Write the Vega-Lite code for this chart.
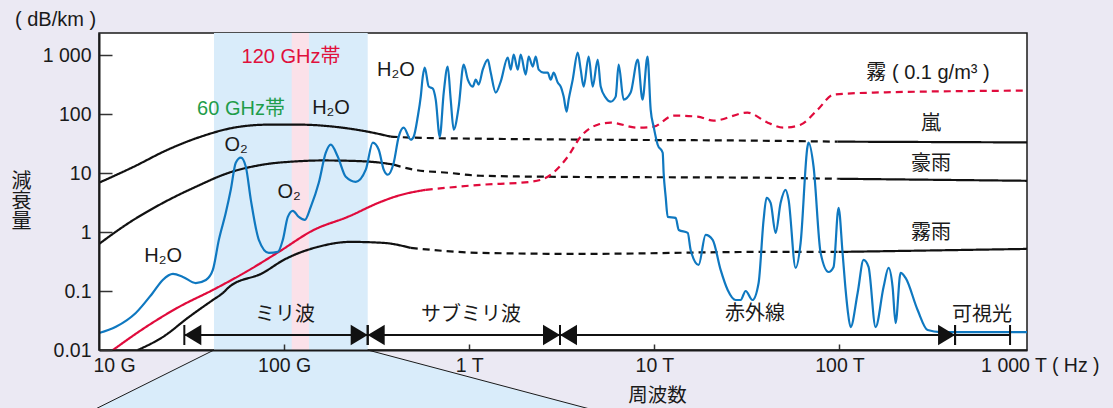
{
  "$schema": "https://vega.github.io/schema/vega-lite/v6.json",
  "width": 928,
  "height": 317,
  "autosize": {"type": "none"},
  "padding": {"left": 99, "top": 33, "right": 86, "bottom": 58},
  "background": "#ebe9f3",
  "view": {"fill": "white", "stroke": "#1a1a1a", "strokeWidth": 1.5},
  "config": {
    "font": "Liberation Sans, Noto Sans CJK JP, sans-serif",
    "axis": {"labelFont": "Liberation Sans, Noto Sans CJK JP, sans-serif", "titleFont": "Liberation Sans, Noto Sans CJK JP, sans-serif"},
    "text": {"font": "Liberation Sans, Noto Sans CJK JP, sans-serif"}
  },
  "title": {"text": "( dB/km )", "anchor": "start", "frame": "group", "dx": -84, "offset": 3, "fontSize": 20, "fontWeight": "normal", "color": "#1a1a1a", "font": "Liberation Sans, Noto Sans CJK JP, sans-serif"},
  "resolve": {"scale": {"color": "independent"}},
  "datasets": {
    "bands": [
      {"band": "拡大範囲", "f": 41.8, "f2": 282.8},
      {"band": "120 GHz帯", "f": 109.9, "f2": 136.2}
    ],
    "callout": [
      {"v": 0.01, "f": 41.8, "f2": 282.8},
      {"v": 0.00095, "f": 9.29, "f2": 4745}
    ],
    "calloutEdges": [
      {"f": 41.8, "v": 0.01, "f2": 9.29, "v2": 0.00095},
      {"f": 282.8, "v": 0.01, "f2": 4745, "v2": 0.00095}
    ],
    "ranges": [
      {"range": "ミリ波", "f": 28.9, "f2": 282.8},
      {"range": "サブミリ波", "f": 282.8, "f2": 3093},
      {"range": "赤外線", "f": 3093, "f2": 421000},
      {"range": "可視光", "f": 421000, "f2": 834200}
    ],
    "notes": [
      {"label": "120 GHz帯", "kind": "120 GHz帯", "f": 108.9, "v": 943},
      {"label": "60 GHz帯", "kind": "60 GHz帯", "f": 58.5, "v": 123.5},
      {"label": "H₂O", "kind": "その他", "f": 179.2, "v": 128.4},
      {"label": "O₂", "kind": "その他", "f": 55.0, "v": 30.2},
      {"label": "O₂", "kind": "その他", "f": 106.3, "v": 4.815},
      {"label": "H₂O", "kind": "その他", "f": 22.2, "v": 0.394},
      {"label": "H₂O", "kind": "その他", "f": 402, "v": 567},
      {"label": "霧 ( 0.1 g/m³ )", "kind": "その他", "f": 300800, "v": 504.7},
      {"label": "嵐", "kind": "その他", "f": 312200, "v": 68.7},
      {"label": "豪雨", "kind": "その他", "f": 312200, "v": 14.4},
      {"label": "霧雨", "kind": "その他", "f": 312200, "v": 0.969},
      {"label": "ミリ波", "kind": "その他", "f": 101.1, "v": 0.03929},
      {"label": "サブミリ波", "kind": "その他", "f": 1022, "v": 0.03929},
      {"label": "赤外線", "kind": "その他", "f": 34960, "v": 0.04086},
      {"label": "可視光", "kind": "その他", "f": 588900, "v": 0.03929}
    ],
    "curves": [
      {"curve": "嵐", "seg": "嵐1", "status": "measured", "f": 10, "v": 6.9},
      {"curve": "嵐", "seg": "嵐1", "status": "measured", "f": 15.4, "v": 12.9},
      {"curve": "嵐", "seg": "嵐1", "status": "measured", "f": 23.5, "v": 25.1},
      {"curve": "嵐", "seg": "嵐1", "status": "measured", "f": 35.5, "v": 41.8},
      {"curve": "嵐", "seg": "嵐1", "status": "measured", "f": 53.5, "v": 59.4},
      {"curve": "嵐", "seg": "嵐1", "status": "measured", "f": 81.7, "v": 66.8},
      {"curve": "嵐", "seg": "嵐1", "status": "measured", "f": 123, "v": 66.8},
      {"curve": "嵐", "seg": "嵐1", "status": "measured", "f": 185, "v": 61.8},
      {"curve": "嵐", "seg": "嵐1", "status": "measured", "f": 283, "v": 50.8},
      {"curve": "嵐", "seg": "嵐1", "status": "measured", "f": 377, "v": 41.8},
      {"curve": "嵐", "seg": "嵐2", "status": "estimated", "f": 377, "v": 41.8},
      {"curve": "嵐", "seg": "嵐2", "status": "estimated", "f": 501, "v": 40.2},
      {"curve": "嵐", "seg": "嵐2", "status": "estimated", "f": 1153, "v": 38.6},
      {"curve": "嵐", "seg": "嵐2", "status": "estimated", "f": 5129, "v": 37.1},
      {"curve": "嵐", "seg": "嵐2", "status": "estimated", "f": 37500, "v": 35.7},
      {"curve": "嵐", "seg": "嵐2", "status": "estimated", "f": 97700, "v": 34.4},
      {"curve": "嵐", "seg": "嵐3", "status": "measured", "f": 97700, "v": 34.4},
      {"curve": "嵐", "seg": "嵐3", "status": "measured", "f": 1036000, "v": 33.4},
      {"curve": "豪雨", "seg": "豪雨1", "status": "measured", "f": 10, "v": 0.63},
      {"curve": "豪雨", "seg": "豪雨1", "status": "measured", "f": 14.5, "v": 1.44},
      {"curve": "豪雨", "seg": "豪雨1", "status": "measured", "f": 22.2, "v": 3.15},
      {"curve": "豪雨", "seg": "豪雨1", "status": "measured", "f": 33.3, "v": 5.89},
      {"curve": "豪雨", "seg": "豪雨1", "status": "measured", "f": 50.3, "v": 10.2},
      {"curve": "豪雨", "seg": "豪雨1", "status": "measured", "f": 76.7, "v": 14.0},
      {"curve": "豪雨", "seg": "豪雨1", "status": "measured", "f": 115.6, "v": 15.9},
      {"curve": "豪雨", "seg": "豪雨1", "status": "measured", "f": 160, "v": 16.5},
      {"curve": "豪雨", "seg": "豪雨1", "status": "measured", "f": 220.8, "v": 16.3},
      {"curve": "豪雨", "seg": "豪雨1", "status": "measured", "f": 332.7, "v": 15.1},
      {"curve": "豪雨", "seg": "豪雨1", "status": "measured", "f": 391, "v": 14.0},
      {"curve": "豪雨", "seg": "豪雨2", "status": "estimated", "f": 391, "v": 14.0},
      {"curve": "豪雨", "seg": "豪雨2", "status": "estimated", "f": 501, "v": 11.5},
      {"curve": "豪雨", "seg": "豪雨2", "status": "estimated", "f": 765, "v": 10.2},
      {"curve": "豪雨", "seg": "豪雨2", "status": "estimated", "f": 1153, "v": 9.08},
      {"curve": "豪雨", "seg": "豪雨2", "status": "estimated", "f": 2655, "v": 8.73},
      {"curve": "豪雨", "seg": "豪雨2", "status": "estimated", "f": 37500, "v": 8.4},
      {"curve": "豪雨", "seg": "豪雨2", "status": "estimated", "f": 97700, "v": 8.07},
      {"curve": "豪雨", "seg": "豪雨3", "status": "measured", "f": 97700, "v": 8.07},
      {"curve": "豪雨", "seg": "豪雨3", "status": "measured", "f": 1036000, "v": 7.45},
      {"curve": "霧雨", "seg": "霧雨1", "status": "measured", "f": 16.2, "v": 0.01},
      {"curve": "霧雨", "seg": "霧雨1", "status": "measured", "f": 22.1, "v": 0.0166},
      {"curve": "霧雨", "seg": "霧雨1", "status": "measured", "f": 30.6, "v": 0.0363},
      {"curve": "霧雨", "seg": "霧雨1", "status": "measured", "f": 41.2, "v": 0.0706},
      {"curve": "霧雨", "seg": "霧雨1", "status": "measured", "f": 46.7, "v": 0.0929},
      {"curve": "霧雨", "seg": "霧雨1", "status": "measured", "f": 50.4, "v": 0.117},
      {"curve": "霧雨", "seg": "霧雨1", "status": "measured", "f": 76.7, "v": 0.203},
      {"curve": "霧雨", "seg": "霧雨1", "status": "measured", "f": 99.5, "v": 0.338},
      {"curve": "霧雨", "seg": "霧雨1", "status": "measured", "f": 152, "v": 0.562},
      {"curve": "霧雨", "seg": "霧雨1", "status": "measured", "f": 229, "v": 0.684},
      {"curve": "霧雨", "seg": "霧雨1", "status": "measured", "f": 345, "v": 0.658},
      {"curve": "霧雨", "seg": "霧雨1", "status": "measured", "f": 483, "v": 0.541},
      {"curve": "霧雨", "seg": "霧雨2", "status": "estimated", "f": 483, "v": 0.541},
      {"curve": "霧雨", "seg": "霧雨2", "status": "estimated", "f": 1153, "v": 0.445},
      {"curve": "霧雨", "seg": "霧雨2", "status": "estimated", "f": 4000, "v": 0.428},
      {"curve": "霧雨", "seg": "霧雨2", "status": "estimated", "f": 37500, "v": 0.462},
      {"curve": "霧雨", "seg": "霧雨2", "status": "estimated", "f": 98850, "v": 0.462},
      {"curve": "霧雨", "seg": "霧雨3", "status": "measured", "f": 98850, "v": 0.462},
      {"curve": "霧雨", "seg": "霧雨3", "status": "measured", "f": 1036000, "v": 0.52},
      {"curve": "霧", "seg": "霧1", "status": "measured", "f": 11.9, "v": 0.01},
      {"curve": "霧", "seg": "霧1", "status": "measured", "f": 17.9, "v": 0.0245},
      {"curve": "霧", "seg": "霧1", "status": "measured", "f": 27.0, "v": 0.0537},
      {"curve": "霧", "seg": "霧1", "status": "measured", "f": 41.2, "v": 0.1045},
      {"curve": "霧", "seg": "霧1", "status": "measured", "f": 62.1, "v": 0.211},
      {"curve": "霧", "seg": "霧1", "status": "measured", "f": 93.5, "v": 0.462},
      {"curve": "霧", "seg": "霧1", "status": "measured", "f": 144.5, "v": 1.09},
      {"curve": "霧", "seg": "霧1", "status": "measured", "f": 220.8, "v": 1.82},
      {"curve": "霧", "seg": "霧1", "status": "measured", "f": 332.7, "v": 3.27},
      {"curve": "霧", "seg": "霧1", "status": "measured", "f": 411, "v": 4.14},
      {"curve": "霧", "seg": "霧1", "status": "measured", "f": 582, "v": 5.24},
      {"curve": "霧", "seg": "霧2", "status": "estimated", "f": 582, "v": 5.24},
      {"curve": "霧", "seg": "霧2", "status": "estimated", "f": 1153, "v": 6.37},
      {"curve": "霧", "seg": "霧2", "status": "estimated", "f": 2148, "v": 7.17},
      {"curve": "霧", "seg": "霧2", "status": "estimated", "f": 2655, "v": 8.73},
      {"curve": "霧", "seg": "霧2", "status": "estimated", "f": 3404, "v": 19.1},
      {"curve": "霧", "seg": "霧2", "status": "estimated", "f": 4000, "v": 41.8},
      {"curve": "霧", "seg": "霧2", "status": "estimated", "f": 4943, "v": 66.8},
      {"curve": "霧", "seg": "霧2", "status": "estimated", "f": 5808, "v": 72.3},
      {"curve": "霧", "seg": "霧2", "status": "estimated", "f": 8128, "v": 59.4},
      {"curve": "霧", "seg": "霧2", "status": "estimated", "f": 9908, "v": 61.8},
      {"curve": "霧", "seg": "霧2", "status": "estimated", "f": 12700, "v": 95.1},
      {"curve": "霧", "seg": "霧2", "status": "estimated", "f": 17100, "v": 91.4},
      {"curve": "霧", "seg": "霧2", "status": "estimated", "f": 20890, "v": 78.2},
      {"curve": "霧", "seg": "霧2", "status": "estimated", "f": 31840, "v": 107},
      {"curve": "霧", "seg": "霧2", "status": "estimated", "f": 40930, "v": 72.3},
      {"curve": "霧", "seg": "霧2", "status": "estimated", "f": 49890, "v": 59.4},
      {"curve": "霧", "seg": "霧2", "status": "estimated", "f": 61660, "v": 66.8},
      {"curve": "霧", "seg": "霧2", "status": "estimated", "f": 76210, "v": 120},
      {"curve": "霧", "seg": "霧2", "status": "estimated", "f": 92900, "v": 216},
      {"curve": "霧", "seg": "霧2", "status": "estimated", "f": 152800, "v": 234},
      {"curve": "霧", "seg": "霧2", "status": "estimated", "f": 1036000, "v": 253}
    ],
    "gas": [
      {"f": 10, "v": 0.0194}, {"f": 12.34, "v": 0.0248}, {"f": 15.8, "v": 0.0425}, {"f": 19.5, "v": 0.0929},
      {"f": 22.1, "v": 0.1545}, {"f": 25.1, "v": 0.1954}, {"f": 28.4, "v": 0.174}, {"f": 33.3, "v": 0.137},
      {"f": 37.8, "v": 0.1545}, {"f": 41.2, "v": 0.2286}, {"f": 44.4, "v": 0.74}, {"f": 48.4, "v": 2.13},
      {"f": 51.5, "v": 5.24}, {"f": 54.8, "v": 15.1}, {"f": 58.4, "v": 18.4}, {"f": 62.1, "v": 12.9},
      {"f": 66.1, "v": 3.54}, {"f": 73.0, "v": 0.74}, {"f": 82.6, "v": 0.445}, {"f": 92.5, "v": 0.462},
      {"f": 98.4, "v": 0.74}, {"f": 104.7, "v": 1.82}, {"f": 111.4, "v": 2.3}, {"f": 120.0, "v": 1.82},
      {"f": 129.4, "v": 1.62}, {"f": 139.3, "v": 2.69}, {"f": 153.9, "v": 6.89}, {"f": 167.9, "v": 22.3},
      {"f": 178.6, "v": 30.6}, {"f": 195.0, "v": 19.1}, {"f": 215.3, "v": 8.73}, {"f": 243.8, "v": 7.17},
      {"f": 276.1, "v": 11.5}, {"f": 301.3, "v": 33.1}, {"f": 324.4, "v": 25.1}, {"f": 345.1, "v": 11.5},
      {"f": 363.1, "v": 9.44}, {"f": 390.9, "v": 15.1}, {"f": 415.9, "v": 41.8}, {"f": 442.6, "v": 59.4},
      {"f": 483.1, "v": 37.1}, {"f": 501, "v": 41.8}, {"f": 527, "v": 91.0}, {"f": 547, "v": 200},
      {"f": 561, "v": 438}, {"f": 575, "v": 622}, {"f": 604, "v": 296}, {"f": 635, "v": 274},
      {"f": 659, "v": 178}, {"f": 693, "v": 41.8}, {"f": 728, "v": 234}, {"f": 765, "v": 647},
      {"f": 794, "v": 178}, {"f": 824, "v": 55.0}, {"f": 877, "v": 135}, {"f": 933, "v": 700},
      {"f": 982, "v": 389}, {"f": 1045, "v": 296}, {"f": 1084, "v": 389}, {"f": 1125, "v": 320},
      {"f": 1183, "v": 575}, {"f": 1259, "v": 851}, {"f": 1306, "v": 512}, {"f": 1390, "v": 234},
      {"f": 1479, "v": 360}, {"f": 1614, "v": 920}, {"f": 1675, "v": 575}, {"f": 1738, "v": 1035},
      {"f": 1828, "v": 575}, {"f": 1897, "v": 1035}, {"f": 2018, "v": 473}, {"f": 2094, "v": 957},
      {"f": 2203, "v": 647}, {"f": 2286, "v": 957}, {"f": 2372, "v": 575}, {"f": 2523, "v": 512},
      {"f": 2655, "v": 512}, {"f": 2754, "v": 389}, {"f": 2858, "v": 512}, {"f": 3006, "v": 346},
      {"f": 3119, "v": 296}, {"f": 3236, "v": 200}, {"f": 3357, "v": 111}, {"f": 3443, "v": 178},
      {"f": 3622, "v": 389}, {"f": 3855, "v": 1119}, {"f": 4000, "v": 575}, {"f": 4150, "v": 296},
      {"f": 4416, "v": 957}, {"f": 4645, "v": 296}, {"f": 4943, "v": 851}, {"f": 5129, "v": 296},
      {"f": 5458, "v": 192}, {"f": 5808, "v": 164}, {"f": 6180, "v": 200}, {"f": 6412, "v": 700},
      {"f": 6823, "v": 178}, {"f": 7447, "v": 234}, {"f": 8128, "v": 851}, {"f": 8630, "v": 178},
      {"f": 9183, "v": 957}, {"f": 9550, "v": 120}, {"f": 9908, "v": 61.8}, {"f": 10420, "v": 30.5},
      {"f": 11090, "v": 22.3}, {"f": 11220, "v": 10.2}, {"f": 11510, "v": 3.98}, {"f": 11800, "v": 1.82},
      {"f": 13030, "v": 1.75}, {"f": 13550, "v": 1.09}, {"f": 15140, "v": 0.973}, {"f": 15700, "v": 0.5},
      {"f": 17340, "v": 0.278}, {"f": 18920, "v": 0.9}, {"f": 20650, "v": 0.74}, {"f": 22800, "v": 0.229},
      {"f": 24890, "v": 0.1045}, {"f": 27480, "v": 0.0706}, {"f": 29240, "v": 0.0706}, {"f": 31120, "v": 0.1004},
      {"f": 33880, "v": 0.0706}, {"f": 36560, "v": 0.1374}, {"f": 38900, "v": 1.62}, {"f": 40360, "v": 3.83},
      {"f": 42460, "v": 3.15}, {"f": 45180, "v": 0.973}, {"f": 48080, "v": 3.15}, {"f": 51170, "v": 5.24},
      {"f": 53090, "v": 3.54}, {"f": 57940, "v": 0.247}, {"f": 61660, "v": 0.658}, {"f": 67140, "v": 28.2},
      {"f": 68080, "v": 33.0}, {"f": 72440, "v": 12.9}, {"f": 79070, "v": 0.445}, {"f": 87300, "v": 0.211},
      {"f": 92900, "v": 0.257}, {"f": 98850, "v": 2.59}, {"f": 103900, "v": 0.445}, {"f": 107900, "v": 0.1045},
      {"f": 110700, "v": 0.0477}, {"f": 114800, "v": 0.0245}, {"f": 125300, "v": 0.0929}, {"f": 134900, "v": 0.338},
      {"f": 143500, "v": 0.257}, {"f": 156700, "v": 0.0245}, {"f": 173000, "v": 0.117}, {"f": 184100, "v": 0.247},
      {"f": 193600, "v": 0.117}, {"f": 200900, "v": 0.0287}, {"f": 213800, "v": 0.203}, {"f": 227500, "v": 0.167},
      {"f": 264200, "v": 0.0477}, {"f": 299200, "v": 0.0218}, {"f": 351600, "v": 0.0201}, {"f": 1036000, "v": 0.0201}
    ]
  },
  "layer": [
    {
      "data": {"name": "bands"},
      "mark": {"type": "rect"},
      "encoding": {
        "x": {"field": "f", "type": "quantitative", "title": "周波数", "scale": {"type": "log", "domain": [10, 1030000], "nice": false}},
        "x2": {"field": "f2"},
        "color": {"field": "band", "type": "nominal", "scale": {"domain": ["拡大範囲", "120 GHz帯"], "range": ["#d9ecfa", "#fbe1e9"]}, "legend": null}
      }
    },
    {
      "data": {"name": "callout"},
      "mark": {"type": "area", "orient": "horizontal", "clip": false, "color": "#d9ecfa"},
      "encoding": {
        "y": {"field": "v", "type": "quantitative", "title": ["減", "衰", "量"], "scale": {"type": "log", "domain": [0.01, 2404], "nice": false}},
        "x": {"field": "f", "type": "quantitative", "title": "周波数", "scale": {"type": "log", "domain": [10, 1030000], "nice": false}},
        "x2": {"field": "f2"}
      }
    },
    {
      "data": {"name": "calloutEdges"},
      "mark": {"type": "rule", "clip": false, "color": "#1a1a1a", "strokeWidth": 1},
      "encoding": {
        "x": {"field": "f", "type": "quantitative", "title": "周波数", "scale": {"type": "log", "domain": [10, 1030000], "nice": false}},
        "x2": {"field": "f2"},
        "y": {"field": "v", "type": "quantitative", "title": ["減", "衰", "量"], "scale": {"type": "log", "domain": [0.01, 2404], "nice": false}},
        "y2": {"field": "v2"}
      }
    },
    {
      "data": {"name": "curves"},
      "transform": [{"filter": "datum.curve != '霧'"}],
      "mark": {"type": "line", "interpolate": "monotone", "clip": true, "color": "#111111", "strokeWidth": 2.2},
      "encoding": {
        "x": {
          "field": "f", "type": "quantitative", "title": "周波数",
          "scale": {"type": "log", "domain": [10, 1030000], "nice": false},
          "axis": {
            "values": [10, 100, 1000, 10000, 100000, 1000000],
            "labelExpr": "datum.value == 10 ? '10 G' : datum.value == 100 ? '100 G' : datum.value == 1000 ? '1 T' : datum.value == 10000 ? '10 T' : datum.value == 100000 ? '100 T' : '1 000 T ( Hz )'",
            "labelFontSize": 19.5, "labelColor": "#1a1a1a", "labelFlush": false, "labelOverlap": false,
            "labelAlign": {"condition": {"test": "datum.value > 500000 || datum.value < 11", "value": "left"}, "value": "center"},
            "labelOffset": {"condition": [{"test": "datum.value > 500000", "value": -44}, {"test": "datum.value < 11", "value": -6}], "value": 0},
            "tickSize": -6, "tickWidth": 1.5, "tickColor": {"condition": {"test": "datum.value < 11 || datum.value > 500000", "value": "transparent"}, "value": "#333333"},
            "labelPadding": 12,
            "domainColor": "#1a1a1a", "domainWidth": 2, "grid": false,
            "titleFontSize": 19.5, "titleFontWeight": "normal", "titleColor": "#1a1a1a",
            "titleX": 558, "titleY": 45, "titleBaseline": "middle", "titleAlign": "center",
            "zindex": 1
          }
        },
        "y": {
          "field": "v", "type": "quantitative", "title": ["減", "衰", "量"],
          "scale": {"type": "log", "domain": [0.01, 2404], "nice": false},
          "axis": {
            "values": [0.01, 0.1, 1, 10, 100, 1000],
            "labelExpr": "datum.value >= 1000 ? '1 000' : toString(datum.value)",
            "labelFontSize": 19.5, "labelColor": "#1a1a1a", "labelFlush": false, "labelOverlap": false,
            "tickSize": -13, "tickWidth": 1.5, "tickColor": "#333333",
            "labelPadding": 21,
            "domainColor": "#1a1a1a", "domainWidth": 2, "grid": false,
            "titleAngle": 0, "titleFontSize": 20, "titleFontWeight": "normal", "titleColor": "#1a1a1a",
            "titleX": -78, "titleY": 148, "titleBaseline": "middle", "titleAlign": "center", "titleLineHeight": 20,
            "zindex": 1
          }
        },
        "detail": {"field": "seg"},
        "strokeDash": {"field": "status", "type": "nominal", "scale": {"domain": ["measured", "estimated"], "range": [[1, 0], [7, 5]]}, "legend": null}
      }
    },
    {
      "data": {"name": "curves"},
      "transform": [{"filter": "datum.curve == '霧'"}],
      "mark": {"type": "line", "interpolate": "monotone", "clip": true, "color": "#e00b3c", "strokeWidth": 2.2},
      "encoding": {
        "x": {"field": "f", "type": "quantitative", "title": "周波数", "scale": {"type": "log", "domain": [10, 1030000], "nice": false}},
        "y": {"field": "v", "type": "quantitative", "title": ["減", "衰", "量"], "scale": {"type": "log", "domain": [0.01, 2404], "nice": false}},
        "detail": {"field": "seg"},
        "strokeDash": {"field": "status", "type": "nominal", "scale": {"domain": ["measured", "estimated"], "range": [[1, 0], [7, 5]]}, "legend": null}
      }
    },
    {
      "data": {"name": "gas"},
      "mark": {"type": "line", "interpolate": "monotone", "clip": true, "color": "#0f78c0", "strokeWidth": 2.2},
      "encoding": {
        "x": {"field": "f", "type": "quantitative", "title": "周波数", "scale": {"type": "log", "domain": [10, 1030000], "nice": false}},
        "y": {"field": "v", "type": "quantitative", "title": ["減", "衰", "量"], "scale": {"type": "log", "domain": [0.01, 2404], "nice": false}}
      }
    },
    {
      "data": {"name": "ranges"},
      "mark": {"type": "rule", "color": "#111111", "strokeWidth": 2.2},
      "encoding": {
        "x": {"field": "f", "type": "quantitative", "title": "周波数", "scale": {"type": "log", "domain": [10, 1030000], "nice": false}},
        "x2": {"field": "f2"},
        "y": {"datum": 0.01798, "type": "quantitative", "title": ["減", "衰", "量"], "scale": {"type": "log", "domain": [0.01, 2404], "nice": false}}
      }
    },
    {
      "data": {"name": "ranges"},
      "mark": {"type": "rule", "color": "#111111", "strokeWidth": 2},
      "encoding": {
        "x": {"field": "f", "type": "quantitative", "title": "周波数", "scale": {"type": "log", "domain": [10, 1030000], "nice": false}},
        "y": {"datum": 0.02657, "type": "quantitative", "title": ["減", "衰", "量"], "scale": {"type": "log", "domain": [0.01, 2404], "nice": false}},
        "y2": {"datum": 0.01216}
      }
    },
    {
      "data": {"name": "ranges"},
      "mark": {"type": "rule", "color": "#111111", "strokeWidth": 2},
      "encoding": {
        "x": {"field": "f2", "type": "quantitative", "title": "周波数", "scale": {"type": "log", "domain": [10, 1030000], "nice": false}},
        "y": {"datum": 0.02657, "type": "quantitative", "title": ["減", "衰", "量"], "scale": {"type": "log", "domain": [0.01, 2404], "nice": false}},
        "y2": {"datum": 0.01216}
      }
    },
    {
      "data": {"name": "ranges"},
      "transform": [{"filter": "datum.range != '可視光'"}],
      "mark": {"type": "point", "shape": "M0,0L2,-1.2L2,1.2Z", "size": 289, "filled": true, "opacity": 1, "color": "#111111", "strokeWidth": 0},
      "encoding": {
        "x": {"field": "f", "type": "quantitative", "title": "周波数", "scale": {"type": "log", "domain": [10, 1030000], "nice": false}},
        "y": {"datum": 0.01798, "type": "quantitative", "title": ["減", "衰", "量"], "scale": {"type": "log", "domain": [0.01, 2404], "nice": false}}
      }
    },
    {
      "data": {"name": "ranges"},
      "transform": [{"filter": "datum.range != '可視光'"}],
      "mark": {"type": "point", "shape": "M0,0L-2,-1.2L-2,1.2Z", "size": 289, "filled": true, "opacity": 1, "color": "#111111", "strokeWidth": 0},
      "encoding": {
        "x": {"field": "f2", "type": "quantitative", "title": "周波数", "scale": {"type": "log", "domain": [10, 1030000], "nice": false}},
        "y": {"datum": 0.01798, "type": "quantitative", "title": ["減", "衰", "量"], "scale": {"type": "log", "domain": [0.01, 2404], "nice": false}}
      }
    },
    {
      "data": {"name": "notes"},
      "mark": {"type": "text", "fontSize": 20, "baseline": "middle", "align": "center"},
      "encoding": {
        "x": {"field": "f", "type": "quantitative", "title": "周波数", "scale": {"type": "log", "domain": [10, 1030000], "nice": false}},
        "y": {"field": "v", "type": "quantitative", "title": ["減", "衰", "量"], "scale": {"type": "log", "domain": [0.01, 2404], "nice": false}},
        "text": {"field": "label"},
        "color": {"field": "kind", "type": "nominal", "scale": {"domain": ["60 GHz帯", "120 GHz帯", "その他"], "range": ["#1f9d4a", "#e0103c", "#1a1a1a"]}, "legend": null}
      }
    }
  ]
}
